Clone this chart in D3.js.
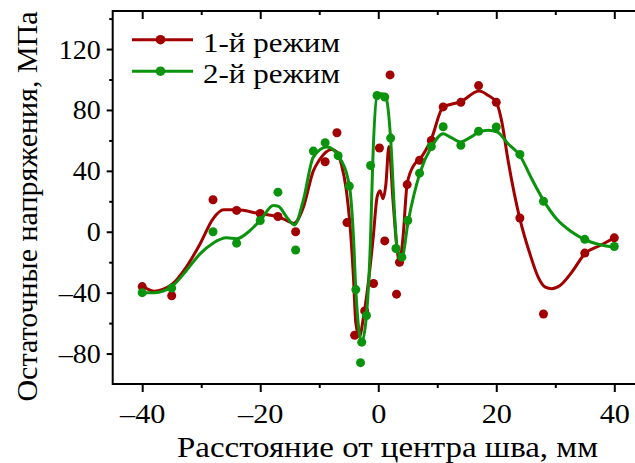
<!DOCTYPE html>
<html>
<head>
<meta charset="utf-8">
<script src="https://cdn.jsdelivr.net/npm/d3@7"></script>
<style>
  body { margin: 0; background: #fff; }
  text { font-family: "Liberation Serif", "Times New Roman", serif; fill: #000; }
</style>
</head>
<body>
<div id="chart"></div>
<script>
// series names
var seriesNames = ["1-й режим", "2-й режим"];

// measured points, mode 1
var red1X = [-40, -35, -28, -24, -20, -17, -14, -9, -7, -5.3, -4, -2.3, -0.8, 0.2, 1.1, 2, 3.1, 3.6, 4.9, 7, 9, 11, 14, 17, 20, 24, 28, 35, 40];
var red1Y = [-36, -42, 21, 14, 12, 10, 0, 46, 65, 6, -68, -52, -34, 55, -6, 103, -41, -20, 31, 47, 60, 82, 85, 96, 85, 9, -54, -14, -4];

// measured points, mode 2
var grn2X = [-40, -35, -28, -24, -20, -17, -14, -11, -9, -6.8, -4.9, -3.8, -2.8, -3, -2, -1.3, -0.2, 1.1, 2.1, 3, 4, 5, 7, 9, 11, 14, 17, 20, 24, 28, 35, 40];
var grn2Y = [-40, -37, 0, -7.5, 7.4, 26, -12, 53, 58.5, 50, 30, -38, -72.5, -86, -55, 43.5, 89.5, 88.5, 61.5, -11, -16.7, 7.4, 38.5, 56, 69, 56.8, 66, 68.8, 50.8, 20, -5, -9.7];

// smoothed curve, mode 1
var fit1X = [-40, -38, -35.1, -32.5, -30.2, -28, -26.2, -24, -20, -17.2, -15.5, -14.3, -12.7, -11, -10, -7.9, -7, -6.2, -5.4, -4.8, -4.2, -3.8, -3.2, -2.5, -1.7, -0.85, -0.2, 0.3, 0.8, 1.3, 1.8, 2.5, 3.1, 3.6, 4.2, 4.9, 6.2, 7.1, 9, 11, 14, 17.1, 18.6, 20, 20.9, 22, 24, 25.7, 27.1, 28.3, 29.4, 30.8, 32.8, 35, 37.6, 40];
var fit1Y = [-35.7, -39, -35, -23, -8, 8.5, 14.4, 14.4, 11.8, 10, 7.4, 5.5, 16, 40, 47, 54, 52.3, 43.6, 27, 5, -30, -60, -69, -56, -34, -3.5, 22.7, 27, 21.7, 31.5, 56, 20.6, -8, -20, -3.5, 31.5, 44.7, 48, 61, 81.9, 85.5, 92.4, 89.6, 85, 73, 46.8, 8.5, -14.5, -29.8, -36.4, -37.4, -35.3, -26.5, -14.5, -9, -4];

// smoothed curve, mode 2
var fit2X = [-40, -37.9, -35, -32.5, -30.2, -28, -25.7, -24, -21.7, -19.8, -17.8, -16.9, -15.5, -14.2, -12.7, -11, -8.7, -6.8, -4.9, -4.2, -3.8, -2.8, -2, -1.3, -0.95, -0.17, 0.6, 1.3, 2.1, 2.8, 3.2, 4, 5.1, 7.1, 9, 11, 12.2, 14, 15.5, 17.1, 18.6, 20.2, 22, 24, 26, 28, 30.2, 32.8, 35, 37.6, 40];
var fit2Y = [-40, -40, -36, -25.4, -14.5, -7.5, -4, -4.6, 0.9, 8.5, 17.3, 16.6, 9.6, 4.5, 20.6, 49, 55.6, 50, 30.4, -3.5, -38.6, -72.5, -55, -3.5, 43.6, 89.6, 90.7, 88.5, 61, 9.6, -11, -16.7, 7.4, 39, 55.6, 64.4, 62.2, 58.9, 61.8, 65.4, 66.6, 65.4, 57.8, 50.1, 34.8, 20.6, 8.5, -0.2, -5.2, -8.5, -10.1];

// ticks
var xMajor = [-40, -20, 0, 20, 40];
var xTickLabels = ["\u201340", "\u201320", "0", "20", "40"];
var xMinor = [-30, -10, 10, 30];
var yMajor = [-80, -40, 0, 40, 80, 120];
var yTickLabels = ["\u201380", "\u201340", "0", "40", "80", "120"];
var yMinor = [-60, -20, 20, 60, 100, 140];

var W = 635, H = 463;
var LEFT = 112.7, TOP = 11, BOTTOM = 384;
var RED = "#a20000", GREEN = "#0a930c";

var svg = d3.select("#chart").append("svg")
  .attr("width", W)
  .attr("height", H);

var x = d3.scaleLinear().domain([-45, 45]).range([LEFT, 643.8]);
var y = d3.scaleLinear().domain([-100, 145]).range([BOTTOM, TOP]);

function styleAxis(g) {
  g.select(".domain").remove();
  g.attr("font-family", null).attr("font-size", null);
  g.selectAll("line").attr("stroke", "#000").attr("stroke-width", 2);
  g.selectAll("text").style("font-size", "28px");
}

// bottom axis
svg.append("g").attr("transform", "translate(0," + BOTTOM + ")")
  .call(d3.axisBottom(x).tickValues(xMajor).tickSize(8).tickPadding(11)
    .tickFormat(function(d, i) { return xTickLabels[i]; }))
  .call(styleAxis)
  .selectAll("text").attr("transform", "scale(1.08,1)");
svg.append("g").attr("transform", "translate(0," + BOTTOM + ")")
  .call(d3.axisBottom(x).tickValues(xMinor).tickSize(4).tickFormat(""))
  .call(styleAxis);

// top axis, ticks inside
svg.append("g").attr("transform", "translate(0," + TOP + ")")
  .call(d3.axisTop(x).tickValues(xMajor).tickSize(-8).tickFormat(""))
  .call(styleAxis);
svg.append("g").attr("transform", "translate(0," + TOP + ")")
  .call(d3.axisTop(x).tickValues(xMinor).tickSize(-4).tickFormat(""))
  .call(styleAxis);

// left axis
svg.append("g").attr("transform", "translate(" + LEFT + ",0)")
  .call(d3.axisLeft(y).tickValues(yMajor).tickSize(6).tickPadding(6)
    .tickFormat(function(d, i) { return yTickLabels[i]; }))
  .call(styleAxis);
svg.append("g").attr("transform", "translate(" + LEFT + ",0)")
  .call(d3.axisLeft(y).tickValues(yMinor).tickSize(3.5).tickFormat(""))
  .call(styleAxis);

// frame
svg.append("path")
  .attr("d", "M" + W + "," + TOP + "H" + LEFT + "V" + BOTTOM + "H" + W)
  .attr("fill", "none")
  .attr("stroke", "#000")
  .attr("stroke-width", 2);

var line = d3.line()
  .x(function(d) { return x(d[0]); })
  .y(function(d) { return y(d[1]); })
  .curve(d3.curveMonotoneX);

function drawSeries(fx, fy, px, py, color) {
  svg.append("path")
    .datum(d3.zip(fx, fy))
    .attr("d", line)
    .attr("fill", "none")
    .attr("stroke", color)
    .attr("stroke-width", 3);
  svg.append("g").selectAll("circle")
    .data(d3.zip(px, py))
    .enter().append("circle")
    .attr("cx", function(d) { return x(d[0]); })
    .attr("cy", function(d) { return y(d[1]); })
    .attr("r", 4.5)
    .attr("fill", color);
}

drawSeries(fit1X, fit1Y, red1X, red1Y, RED);
drawSeries(fit2X, fit2Y, grn2X, grn2Y, GREEN);

// legend
var legend = svg.append("g");
var legendColors = [RED, GREEN];
seriesNames.forEach(function(name, i) {
  var ly = 39.7 + i * 31.5;
  legend.append("line")
    .attr("x1", 132).attr("x2", 193)
    .attr("y1", ly).attr("y2", ly)
    .attr("stroke", legendColors[i])
    .attr("stroke-width", 3);
  legend.append("circle")
    .attr("cx", 160.5).attr("cy", ly)
    .attr("r", 4.8)
    .attr("fill", legendColors[i]);
  legend.append("text")
    .attr("x", 203).attr("y", ly + 12)
    .attr("textLength", 137)
    .attr("lengthAdjust", "spacingAndGlyphs")
    .style("font-size", "28px")
    .text(name);
});

// axis titles
svg.append("text")
  .attr("x", 177).attr("y", 457)
  .attr("textLength", 421)
  .attr("lengthAdjust", "spacingAndGlyphs")
  .style("font-size", "30px")
  .text("Расстояние от центра шва, мм");

svg.append("text")
  .attr("transform", "translate(37,206.5) rotate(-90)")
  .attr("text-anchor", "middle")
  .style("font-size", "30px")
  .text("Остаточные напряжения, МПа");
</script>
</body>
</html>
